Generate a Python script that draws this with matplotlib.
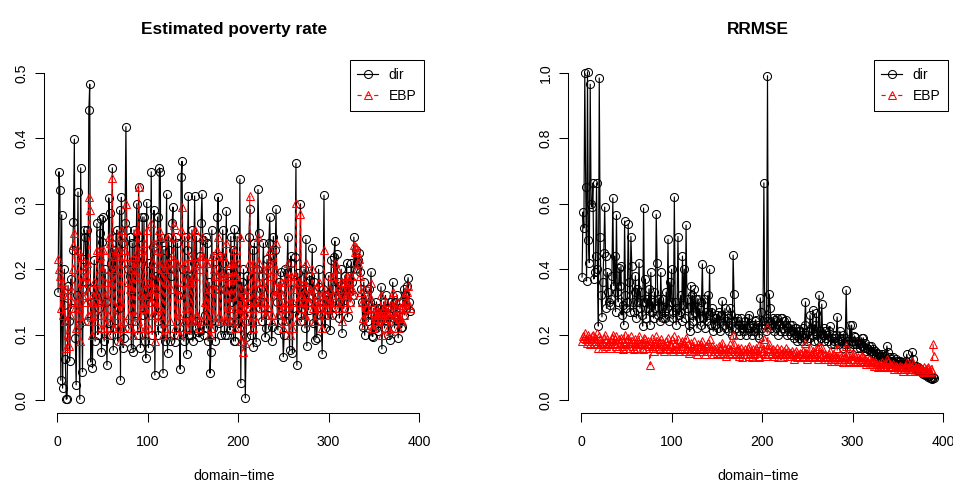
import numpy as np
import matplotlib
matplotlib.use("Agg")
import matplotlib.pyplot as plt

plt.rcParams['font.family'] = ['Liberation Sans', 'DejaVu Sans']
plt.rcParams['lines.scale_dashes'] = False

# domain-time index
domain_time = list(range(1, 391))

# Estimated poverty rate: direct estimator
pov_dir = [
    0.165, 0.349, 0.321, 0.030, 0.283, 0.018, 0.145, 0.200, 0.062, 0.001,
    0.002, 0.175, 0.120, 0.060, 0.185, 0.140, 0.230, 0.272, 0.399, 0.095,
    0.023, 0.160, 0.318, 0.115, 0.001, 0.355, 0.170, 0.043, 0.215, 0.260,
    0.249, 0.180, 0.260, 0.120, 0.443, 0.483, 0.058, 0.150, 0.049, 0.170,
    0.214, 0.090, 0.160, 0.270, 0.100, 0.140, 0.255, 0.277, 0.073, 0.241,
    0.280, 0.090, 0.200, 0.150, 0.053, 0.117, 0.309, 0.286, 0.100, 0.210,
    0.355, 0.076, 0.230, 0.110, 0.250, 0.260, 0.090, 0.140, 0.290, 0.030,
    0.310, 0.240, 0.080, 0.095, 0.270, 0.418, 0.260, 0.200, 0.110, 0.250,
    0.190, 0.080, 0.240, 0.073, 0.260, 0.120, 0.215, 0.300, 0.100, 0.326,
    0.250, 0.080, 0.160, 0.280, 0.130, 0.280, 0.090, 0.064, 0.302, 0.170,
    0.080, 0.210, 0.150, 0.349, 0.100, 0.234, 0.290, 0.038, 0.190, 0.130,
    0.280, 0.100, 0.355, 0.349, 0.110, 0.248, 0.041, 0.230, 0.090, 0.200,
    0.315, 0.072, 0.250, 0.230, 0.090, 0.190, 0.270, 0.295, 0.210, 0.089,
    0.250, 0.100, 0.240, 0.160, 0.110, 0.047, 0.341, 0.365, 0.200, 0.090,
    0.250, 0.120, 0.070, 0.230, 0.312, 0.100, 0.190, 0.100, 0.260, 0.090,
    0.210, 0.312, 0.110, 0.250, 0.120, 0.104, 0.096, 0.220, 0.270, 0.315,
    0.245, 0.100, 0.130, 0.250, 0.110, 0.240, 0.090, 0.180, 0.041, 0.073,
    0.260, 0.110, 0.220, 0.170, 0.090, 0.200, 0.280, 0.310, 0.118, 0.220,
    0.100, 0.194, 0.260, 0.210, 0.100, 0.170, 0.289, 0.100, 0.194, 0.120,
    0.107, 0.250, 0.150, 0.230, 0.090, 0.262, 0.090, 0.200, 0.250, 0.120,
    0.110, 0.338, 0.026, 0.180, 0.130, 0.200, 0.150, 0.003, 0.096, 0.190,
    0.140, 0.250, 0.292, 0.100, 0.120, 0.230, 0.081, 0.240, 0.150, 0.089,
    0.200, 0.322, 0.255, 0.140, 0.170, 0.120, 0.190, 0.240, 0.150, 0.096,
    0.110, 0.215, 0.130, 0.240, 0.280, 0.210, 0.090, 0.112, 0.250, 0.160,
    0.230, 0.292, 0.150, 0.107, 0.180, 0.130, 0.196, 0.160, 0.120, 0.066,
    0.100, 0.200, 0.120, 0.194, 0.250, 0.130, 0.076, 0.220, 0.210, 0.072,
    0.140, 0.180, 0.219, 0.362, 0.053, 0.194, 0.130, 0.160, 0.300, 0.120,
    0.170, 0.140, 0.200, 0.110, 0.246, 0.083, 0.150, 0.138, 0.190, 0.183,
    0.160, 0.232, 0.118, 0.180, 0.092, 0.150, 0.095, 0.130, 0.200, 0.173,
    0.140, 0.120, 0.070, 0.170, 0.313, 0.110, 0.160, 0.153, 0.130, 0.190,
    0.150, 0.107, 0.214, 0.130, 0.170, 0.219, 0.243, 0.140, 0.223, 0.160,
    0.180, 0.125, 0.150, 0.200, 0.103, 0.173, 0.140, 0.190, 0.160, 0.209,
    0.127, 0.170, 0.190, 0.150, 0.209, 0.180, 0.160, 0.249, 0.200, 0.230,
    0.211, 0.200, 0.214, 0.225, 0.196, 0.170, 0.150, 0.112, 0.180, 0.099,
    0.160, 0.130, 0.145, 0.120, 0.170, 0.150, 0.196, 0.098, 0.097, 0.140,
    0.120, 0.110, 0.150, 0.130, 0.105, 0.140, 0.120, 0.173, 0.078, 0.130,
    0.150, 0.110, 0.160, 0.120, 0.140, 0.100, 0.130, 0.092, 0.150, 0.140,
    0.180, 0.125, 0.110, 0.150, 0.130, 0.160, 0.095, 0.120, 0.140, 0.110,
    0.111, 0.150, 0.170, 0.130, 0.160, 0.140, 0.175, 0.187, 0.150, 0.136,
]

# Estimated poverty rate: EBP
pov_ebp = [
    0.215, 0.200, 0.190, 0.140, 0.180, 0.130, 0.160, 0.170, 0.120, 0.080,
    0.100, 0.160, 0.083, 0.130, 0.170, 0.150, 0.200, 0.237, 0.255, 0.140,
    0.110, 0.150, 0.230, 0.140, 0.090, 0.220, 0.160, 0.120, 0.180, 0.200,
    0.190, 0.150, 0.210, 0.130, 0.310, 0.290, 0.120, 0.150, 0.100, 0.160,
    0.180, 0.120, 0.160, 0.230, 0.130, 0.150, 0.220, 0.230, 0.110, 0.200,
    0.230, 0.110, 0.180, 0.160, 0.100, 0.130, 0.250, 0.240, 0.120, 0.180,
    0.340, 0.110, 0.200, 0.130, 0.220, 0.230, 0.110, 0.150, 0.250, 0.090,
    0.260, 0.210, 0.110, 0.120, 0.230, 0.300, 0.220, 0.180, 0.130, 0.210,
    0.170, 0.110, 0.200, 0.100, 0.220, 0.130, 0.190, 0.260, 0.120, 0.326,
    0.210, 0.110, 0.160, 0.230, 0.140, 0.240, 0.110, 0.100, 0.260, 0.160,
    0.110, 0.180, 0.150, 0.270, 0.130, 0.210, 0.240, 0.090, 0.170, 0.140,
    0.230, 0.120, 0.260, 0.250, 0.130, 0.210, 0.100, 0.200, 0.110, 0.180,
    0.250, 0.100, 0.210, 0.200, 0.120, 0.170, 0.220, 0.250, 0.268, 0.110,
    0.210, 0.120, 0.210, 0.160, 0.130, 0.100, 0.260, 0.295, 0.180, 0.120,
    0.210, 0.140, 0.110, 0.200, 0.250, 0.120, 0.180, 0.120, 0.220, 0.120,
    0.190, 0.260, 0.130, 0.210, 0.130, 0.120, 0.110, 0.200, 0.220, 0.250,
    0.220, 0.120, 0.150, 0.210, 0.130, 0.210, 0.120, 0.170, 0.100, 0.110,
    0.220, 0.130, 0.200, 0.170, 0.120, 0.190, 0.230, 0.250, 0.130, 0.190,
    0.120, 0.190, 0.220, 0.190, 0.120, 0.170, 0.240, 0.120, 0.190, 0.140,
    0.120, 0.210, 0.160, 0.210, 0.120, 0.230, 0.110, 0.190, 0.210, 0.130,
    0.140, 0.250, 0.090, 0.170, 0.150, 0.073, 0.160, 0.087, 0.130, 0.170,
    0.150, 0.210, 0.312, 0.120, 0.140, 0.210, 0.110, 0.200, 0.150, 0.120,
    0.180, 0.250, 0.210, 0.150, 0.160, 0.140, 0.180, 0.200, 0.150, 0.130,
    0.130, 0.200, 0.140, 0.210, 0.230, 0.190, 0.120, 0.130, 0.210, 0.160,
    0.200, 0.240, 0.160, 0.130, 0.170, 0.150, 0.180, 0.160, 0.140, 0.110,
    0.120, 0.180, 0.140, 0.190, 0.210, 0.150, 0.100, 0.190, 0.190, 0.110,
    0.150, 0.170, 0.190, 0.301, 0.120, 0.180, 0.150, 0.160, 0.284, 0.140,
    0.160, 0.150, 0.180, 0.130, 0.210, 0.120, 0.150, 0.150, 0.170, 0.170,
    0.160, 0.200, 0.140, 0.170, 0.120, 0.150, 0.130, 0.140, 0.180, 0.160,
    0.150, 0.140, 0.110, 0.160, 0.230, 0.130, 0.160, 0.150, 0.140, 0.170,
    0.150, 0.130, 0.190, 0.140, 0.160, 0.190, 0.210, 0.150, 0.200, 0.160,
    0.170, 0.140, 0.150, 0.180, 0.120, 0.160, 0.150, 0.180, 0.160, 0.190,
    0.140, 0.160, 0.180, 0.150, 0.190, 0.170, 0.160, 0.237, 0.227, 0.234,
    0.226, 0.200, 0.210, 0.215, 0.190, 0.165, 0.150, 0.125, 0.170, 0.115,
    0.150, 0.140, 0.140, 0.130, 0.160, 0.150, 0.179, 0.110, 0.110, 0.135,
    0.125, 0.120, 0.140, 0.130, 0.115, 0.135, 0.125, 0.160, 0.100, 0.130,
    0.140, 0.120, 0.150, 0.125, 0.135, 0.110, 0.130, 0.105, 0.145, 0.135,
    0.165, 0.130, 0.120, 0.145, 0.130, 0.150, 0.110, 0.125, 0.140, 0.120,
    0.120, 0.145, 0.160, 0.130, 0.150, 0.140, 0.165, 0.175, 0.145, 0.140,
]

# RRMSE: direct estimator
rrmse_dir = [
    0.376, 0.575, 0.526, 1.000, 0.652, 0.364, 1.004, 0.490, 0.420, 0.966,
    0.600, 0.590, 0.664, 0.370, 0.390, 0.440, 0.664, 0.400, 0.226, 0.985,
    0.500, 0.320, 0.254, 0.360, 0.450, 0.590, 0.440, 0.280, 0.390, 0.330,
    0.300, 0.290, 0.310, 0.380, 0.618, 0.350, 0.440, 0.270, 0.566, 0.330,
    0.300, 0.405, 0.350, 0.410, 0.260, 0.290, 0.230, 0.547, 0.320, 0.280,
    0.300, 0.538, 0.360, 0.270, 0.500, 0.410, 0.300, 0.270, 0.330, 0.380,
    0.250, 0.340, 0.300, 0.420, 0.280, 0.330, 0.260, 0.226, 0.587, 0.300,
    0.370, 0.250, 0.310, 0.280, 0.340, 0.230, 0.390, 0.270, 0.300, 0.250,
    0.330, 0.280, 0.568, 0.420, 0.260, 0.310, 0.240, 0.390, 0.280, 0.250,
    0.310, 0.270, 0.250, 0.330, 0.280, 0.492, 0.240, 0.360, 0.300, 0.400,
    0.270, 0.250, 0.621, 0.300, 0.230, 0.280, 0.500, 0.260, 0.270, 0.320,
    0.240, 0.440, 0.290, 0.400, 0.250, 0.535, 0.280, 0.310, 0.230, 0.210,
    0.350, 0.260, 0.320, 0.240, 0.340, 0.270, 0.310, 0.220, 0.310, 0.250,
    0.280, 0.230, 0.300, 0.416, 0.250, 0.310, 0.220, 0.270, 0.240, 0.320,
    0.260, 0.400, 0.230, 0.270, 0.280, 0.210, 0.250, 0.230, 0.250, 0.260,
    0.220, 0.270, 0.240, 0.210, 0.260, 0.303, 0.230, 0.250, 0.280, 0.220,
    0.240, 0.250, 0.210, 0.230, 0.280, 0.260, 0.200, 0.443, 0.324, 0.240,
    0.220, 0.250, 0.240, 0.210, 0.230, 0.200, 0.250, 0.220, 0.230, 0.210,
    0.240, 0.200, 0.220, 0.250, 0.230, 0.260, 0.210, 0.220, 0.200, 0.230,
    0.210, 0.240, 0.245, 0.220, 0.200, 0.230, 0.190, 0.312, 0.270, 0.220,
    0.240, 0.664, 0.230, 0.210, 0.250, 0.992, 0.240, 0.324, 0.280, 0.220,
    0.230, 0.250, 0.210, 0.245, 0.220, 0.240, 0.250, 0.200, 0.230, 0.210,
    0.250, 0.250, 0.220, 0.240, 0.210, 0.230, 0.245, 0.200, 0.220, 0.210,
    0.230, 0.200, 0.230, 0.210, 0.190, 0.220, 0.200, 0.220, 0.180, 0.210,
    0.190, 0.210, 0.200, 0.180, 0.220, 0.190, 0.230, 0.300, 0.200, 0.180,
    0.210, 0.190, 0.260, 0.220, 0.200, 0.275, 0.180, 0.230, 0.210, 0.265,
    0.200, 0.180, 0.320, 0.210, 0.190, 0.293, 0.200, 0.220, 0.180, 0.210,
    0.190, 0.200, 0.180, 0.210, 0.225, 0.170, 0.190, 0.200, 0.180, 0.170,
    0.190, 0.200, 0.254, 0.180, 0.170, 0.210, 0.190, 0.180, 0.160, 0.200,
    0.170, 0.190, 0.336, 0.180, 0.170, 0.160, 0.229, 0.180, 0.229, 0.170,
    0.180, 0.196, 0.191, 0.170, 0.160, 0.180, 0.170, 0.160, 0.175, 0.190,
    0.165, 0.190, 0.160, 0.173, 0.150, 0.160, 0.155, 0.165, 0.150, 0.165,
    0.150, 0.145, 0.155, 0.140, 0.150, 0.135, 0.145, 0.130, 0.140, 0.130,
    0.135, 0.125, 0.140, 0.130, 0.120, 0.135, 0.125, 0.165, 0.147, 0.120,
    0.130, 0.115, 0.125, 0.120, 0.130, 0.115, 0.110, 0.125, 0.120, 0.110,
    0.115, 0.105, 0.120, 0.110, 0.115, 0.100, 0.110, 0.105, 0.120, 0.140,
    0.110, 0.105, 0.100, 0.110, 0.095, 0.147, 0.125, 0.100, 0.095, 0.105,
    0.095, 0.100, 0.090, 0.090, 0.095, 0.085, 0.090, 0.080, 0.085, 0.075,
    0.080, 0.075, 0.078, 0.070, 0.072, 0.066, 0.068, 0.064, 0.070, 0.066,
]

# RRMSE: EBP
rrmse_ebp = [
    0.180, 0.195, 0.190, 0.205, 0.185, 0.175, 0.200, 0.180, 0.190, 0.170,
    0.185, 0.195, 0.200, 0.175, 0.190, 0.180, 0.205, 0.170, 0.160, 0.195,
    0.185, 0.170, 0.160, 0.175, 0.190, 0.200, 0.180, 0.165, 0.185, 0.170,
    0.175, 0.160, 0.180, 0.190, 0.200, 0.170, 0.185, 0.165, 0.195, 0.175,
    0.160, 0.185, 0.175, 0.190, 0.165, 0.155, 0.180, 0.200, 0.170, 0.160,
    0.185, 0.190, 0.175, 0.160, 0.195, 0.180, 0.165, 0.155, 0.175, 0.185,
    0.170, 0.160, 0.180, 0.195, 0.170, 0.175, 0.160, 0.155, 0.190, 0.175,
    0.185, 0.160, 0.170, 0.180, 0.165, 0.107, 0.175, 0.190, 0.160, 0.150,
    0.175, 0.165, 0.195, 0.180, 0.160, 0.170, 0.155, 0.185, 0.175, 0.160,
    0.170, 0.150, 0.165, 0.180, 0.160, 0.190, 0.155, 0.170, 0.165, 0.185,
    0.160, 0.150, 0.195, 0.170, 0.155, 0.165, 0.185, 0.150, 0.160, 0.175,
    0.155, 0.180, 0.165, 0.175, 0.150, 0.190, 0.160, 0.170, 0.145, 0.150,
    0.175, 0.160, 0.165, 0.150, 0.180, 0.160, 0.155, 0.140, 0.170, 0.160,
    0.165, 0.150, 0.170, 0.180, 0.155, 0.160, 0.140, 0.165, 0.150, 0.175,
    0.160, 0.185, 0.150, 0.160, 0.165, 0.140, 0.155, 0.150, 0.160, 0.145,
    0.150, 0.165, 0.155, 0.140, 0.160, 0.175, 0.145, 0.155, 0.160, 0.135,
    0.150, 0.160, 0.140, 0.155, 0.170, 0.150, 0.145, 0.200, 0.170, 0.150,
    0.140, 0.155, 0.160, 0.135, 0.150, 0.145, 0.160, 0.130, 0.150, 0.140,
    0.155, 0.140, 0.150, 0.160, 0.135, 0.165, 0.145, 0.150, 0.130, 0.155,
    0.140, 0.150, 0.160, 0.145, 0.135, 0.150, 0.130, 0.175, 0.160, 0.145,
    0.150, 0.185, 0.140, 0.135, 0.160, 0.223, 0.150, 0.170, 0.155, 0.140,
    0.145, 0.155, 0.135, 0.150, 0.140, 0.160, 0.145, 0.130, 0.150, 0.140,
    0.155, 0.145, 0.130, 0.150, 0.140, 0.160, 0.145, 0.135, 0.150, 0.140,
    0.145, 0.135, 0.150, 0.140, 0.125, 0.145, 0.135, 0.150, 0.130, 0.140,
    0.135, 0.145, 0.140, 0.130, 0.150, 0.135, 0.145, 0.175, 0.140, 0.125,
    0.140, 0.130, 0.160, 0.140, 0.135, 0.150, 0.130, 0.145, 0.140, 0.155,
    0.135, 0.125, 0.165, 0.140, 0.130, 0.160, 0.140, 0.135, 0.125, 0.140,
    0.130, 0.135, 0.125, 0.140, 0.150, 0.120, 0.130, 0.140, 0.125, 0.120,
    0.130, 0.135, 0.160, 0.125, 0.120, 0.140, 0.130, 0.125, 0.115, 0.135,
    0.125, 0.130, 0.165, 0.125, 0.120, 0.115, 0.145, 0.125, 0.140, 0.120,
    0.125, 0.140, 0.135, 0.120, 0.115, 0.130, 0.125, 0.115, 0.130, 0.135,
    0.120, 0.130, 0.115, 0.125, 0.110, 0.120, 0.115, 0.125, 0.110, 0.120,
    0.115, 0.110, 0.120, 0.105, 0.115, 0.105, 0.110, 0.100, 0.110, 0.105,
    0.110, 0.100, 0.115, 0.105, 0.100, 0.110, 0.100, 0.125, 0.115, 0.100,
    0.110, 0.100, 0.105, 0.100, 0.110, 0.095, 0.100, 0.105, 0.100, 0.095,
    0.100, 0.095, 0.105, 0.095, 0.100, 0.090, 0.095, 0.100, 0.105, 0.115,
    0.100, 0.095, 0.090, 0.100, 0.090, 0.120, 0.110, 0.095, 0.090, 0.100,
    0.095, 0.100, 0.090, 0.095, 0.100, 0.090, 0.095, 0.085, 0.100, 0.090,
    0.095, 0.090, 0.100, 0.095, 0.090, 0.085, 0.095, 0.090, 0.170, 0.135,
]

series_labels = ["dir", "EBP"]
panel_titles = ["Estimated poverty rate", "RRMSE"]
x_label = "domain\u2212time"
x_ticks = [0, 100, 200, 300, 400]
y_ticks_pov = [0.0, 0.1, 0.2, 0.3, 0.4, 0.5]
y_ticks_rrmse = [0.0, 0.2, 0.4, 0.6, 0.8, 1.0]

W, H = 954, 491
fig = plt.figure(figsize=(W / 100, H / 100), dpi=100)


def px_axes(x0, y0, x1, y1):
    return fig.add_axes([x0 / W, 1 - y1 / H, (x1 - x0) / W, (y1 - y0) / H])


def r_lim(lo, hi):
    pad = 0.04 * (hi - lo)
    return lo - pad, hi + pad


def draw_panel(ax, direct, ebp, title, yticks):
    ax.plot(domain_time, direct, color="black", lw=0.85, marker="o", ms=5.8,
            mfc="none", mec="black", mew=0.75, label=series_labels[0])
    ax.plot(domain_time, ebp, color="red", lw=0.85, ls=(0, (3, 3)), marker="^",
            ms=6.4, mfc="none", mec="red", mew=0.75, label=series_labels[1])
    ax.set_xlim(*r_lim(min(domain_time), max(domain_time)))
    ax.set_ylim(*r_lim(yticks[0], yticks[-1]))
    for s in ("top", "right"):
        ax.spines[s].set_visible(False)
    ax.spines["left"].set_bounds(yticks[0], yticks[-1])
    ax.spines["bottom"].set_bounds(x_ticks[0], x_ticks[-1])
    for s in ("left", "bottom"):
        ax.spines[s].set_linewidth(0.75)
    ax.set_xticks(x_ticks)
    ax.set_xticklabels([str(t) for t in x_ticks])
    ax.set_yticks(yticks)
    ax.set_yticklabels([f"{t:.1f}" for t in yticks], rotation=90, va="center")
    ax.tick_params(axis="both", direction="out", length=6.2, width=0.75,
                   labelsize=10.2, colors="black")
    ax.tick_params(axis="x", pad=10)
    ax.tick_params(axis="y", pad=5)
    ax.set_xlabel(x_label, fontsize=10.2, labelpad=14)
    ax.set_title(title, fontsize=12.4, fontweight="bold", pad=19)
    leg = ax.legend(loc="upper right", bbox_to_anchor=(1.0, 1.0),
                    borderaxespad=0, fancybox=False, framealpha=1,
                    edgecolor="black", fontsize=10, numpoints=1,
                    handlelength=1.5, handletextpad=0.75, borderpad=0.55,
                    labelspacing=0.55)
    leg.get_frame().set_linewidth(0.75)


ax1 = px_axes(44, 60, 424, 413)
draw_panel(ax1, pov_dir, pov_ebp, panel_titles[0], y_ticks_pov)

ax2 = px_axes(568, 60, 948, 413)
draw_panel(ax2, rrmse_dir, rrmse_ebp, panel_titles[1], y_ticks_rrmse)

fig.savefig("out.png", dpi=100)
